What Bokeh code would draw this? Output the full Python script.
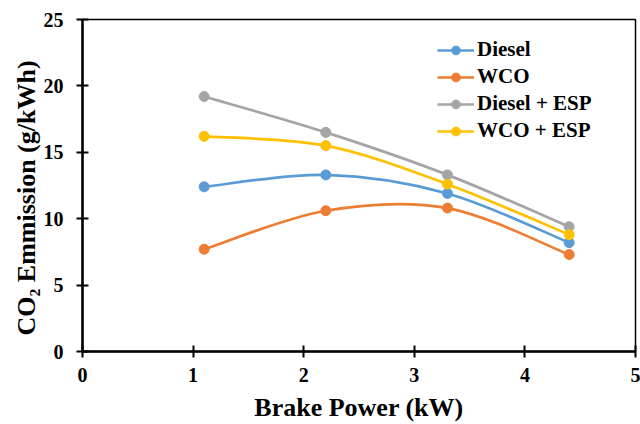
from bokeh.plotting import figure
from bokeh.models import Range1d, Legend, LegendItem, FixedTicker, ColumnDataSource, Title
from bokeh.embed import file_html
from bokeh.resources import INLINE

# ---- data ----
brake_power = [1.1, 2.2, 3.3, 4.4]
diesel = [12.4, 13.3, 11.9, 8.2]
wco = [7.7, 10.6, 10.8, 7.3]
diesel_esp = [19.2, 16.5, 13.3, 9.4]
wco_esp = [16.2, 15.5, 12.6, 8.8]
series_names = ["Diesel", "WCO", "Diesel + ESP", "WCO + ESP"]
series_values = [diesel, wco, diesel_esp, wco_esp]
series_colors = ["#5B9BD5", "#ED7D31", "#A5A5A5", "#FFC000"]
x_ticks = [0, 1, 2, 3, 4, 5]
y_ticks = [0, 5, 10, 15, 20, 25]
x_title = "Brake Power (kW)"
y_title = "CO\u2082 Emmission (g/kWh)"

FONT = "Liberation Serif"

p = figure(width=640, height=424, output_backend="svg", toolbar_location=None,
           x_range=Range1d(0, 5), y_range=Range1d(0, 25),
           min_border_left=82, min_border_right=5, min_border_top=19, min_border_bottom=71)
p.background_fill_color = "white"
p.border_fill_color = "white"
p.outline_line_color = "black"
p.outline_line_width = 1.5
p.xgrid.visible = False
p.ygrid.visible = False

for ax, ticks in ((p.xaxis, x_ticks), (p.yaxis, y_ticks)):
    ax.ticker = FixedTicker(ticks=ticks)
    ax.axis_line_color = "black"
    ax.axis_line_width = 2.5
    ax.major_tick_line_color = "black"
    ax.major_tick_line_width = 2
    ax.major_tick_in = 6
    ax.major_tick_out = 6
    ax.minor_tick_line_color = None
    ax.major_label_text_font = FONT
    ax.major_label_text_font_style = "bold"
    ax.major_label_text_font_size = "20px"
    ax.major_label_text_color = "black"
    ax.axis_label_text_font = FONT
    ax.axis_label_text_font_style = "bold"
    ax.axis_label_text_font_size = "26px"
    ax.axis_label_text_color = "black"

p.xaxis.axis_label = x_title
p.xaxis.major_label_standoff = 10
p.yaxis.major_label_standoff = 13
p.xaxis.axis_label_standoff = 8

# y title as a side title, starting a little above the frame bottom as in the original
ytitle = Title(text=y_title, align="left", offset=16, standoff=0,
               text_font=FONT, text_font_style="bold", text_font_size="26px",
               text_color="black")
p.add_layout(ytitle, "left")


def smooth_segments(xs, ys):
    n = len(xs)
    out = dict(x0=[], y0=[], x1=[], y1=[], cx0=[], cy0=[], cx1=[], cy1=[])
    for i in range(n - 1):
        pi = i - 1 if i > 0 else i
        ni = i + 2 if i + 2 < n else i + 1
        out["x0"].append(xs[i]); out["y0"].append(ys[i])
        out["x1"].append(xs[i + 1]); out["y1"].append(ys[i + 1])
        out["cx0"].append(xs[i] + (xs[i + 1] - xs[pi]) / 6)
        out["cy0"].append(ys[i] + (ys[i + 1] - ys[pi]) / 6)
        out["cx1"].append(xs[i + 1] - (xs[ni] - xs[i]) / 6)
        out["cy1"].append(ys[i + 1] - (ys[ni] - ys[i]) / 6)
    return out


items = []
for name, vals, col in zip(series_names, series_values, series_colors):
    src = ColumnDataSource(smooth_segments(brake_power, vals))
    br = p.bezier(x0="x0", y0="y0", x1="x1", y1="y1", cx0="cx0", cy0="cy0",
                  cx1="cx1", cy1="cy1", source=src, line_color=col, line_width=2.7)
    sr = p.scatter(brake_power, vals, size=10, fill_color=col, line_color=col)
    items.append(LegendItem(label=name, renderers=[br, sr]))

legend = Legend(items=items, location=(355, 208))
legend.border_line_color = None
legend.background_fill_alpha = 0
legend.padding = 5
legend.margin = 0
legend.spacing = 2
legend.glyph_width = 37
legend.glyph_height = 22
legend.label_height = 22
legend.label_standoff = 3
legend.label_text_font = FONT
legend.label_text_font_style = "bold"
legend.label_text_font_size = "21px"
legend.label_text_color = "black"
legend.label_text_baseline = "middle"
p.add_layout(legend, "center")

open("out.html", "w").write(file_html(p, INLINE))
